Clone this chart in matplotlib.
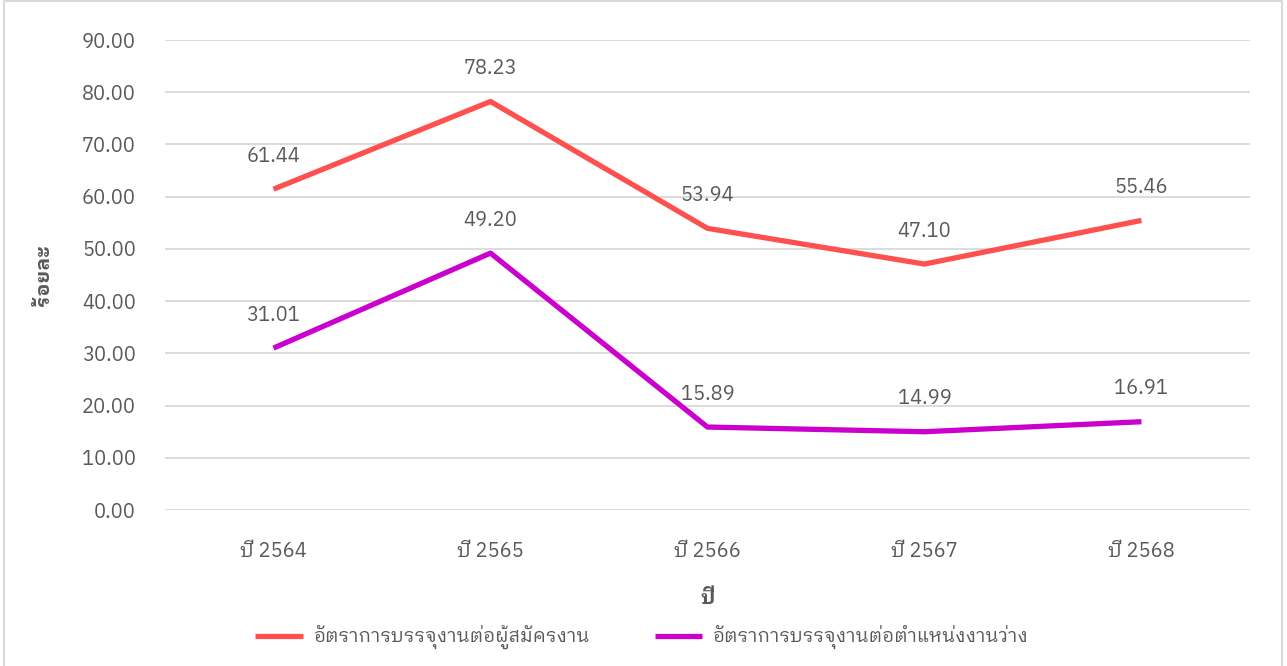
import matplotlib
matplotlib.use('Agg')
import matplotlib.pyplot as plt
from matplotlib.patches import Rectangle

# data
years = ['ปี 2564', 'ปี 2565', 'ปี 2566', 'ปี 2567', 'ปี 2568']
per_applicant = [61.44, 78.23, 53.94, 47.10, 55.46]
per_vacancy = [31.01, 49.20, 15.89, 14.99, 16.91]
series_names = ['อัตราการบรรจุงานต่อผู้สมัครงาน', 'อัตราการบรรจุงานต่อตำแหน่งงานว่าง']
yticks = [0, 10, 20, 30, 40, 50, 60, 70, 80, 90]

plt.rcParams['font.family'] = ['IBM Plex Sans Thai Looped', 'Noto Sans Thai Looped', 'DejaVu Sans']
plt.rcParams['font.weight'] = 'normal'
text_color = '#595959'

fig = plt.figure(figsize=(12.87, 6.66), dpi=100)
ax = fig.add_axes([0.1282, 0.2342, 0.843, 0.7057])

x = list(range(len(years)))
ax.plot(x, per_applicant, color='#FF5050', lw=3.8, solid_capstyle='butt', label=series_names[0])
ax.plot(x, per_vacancy, color='#CC00CC', lw=3.8, solid_capstyle='butt', label=series_names[1])

for xi, v in zip(x, per_applicant):
    ax.annotate(f'{v:.2f}', (xi, v), xytext=(0, 33), textcoords='offset pixels',
                ha='center', va='center', fontsize=14.5, color=text_color)
for xi, v in zip(x, per_vacancy):
    ax.annotate(f'{v:.2f}', (xi, v), xytext=(0, 33), textcoords='offset pixels',
                ha='center', va='center', fontsize=14.5, color=text_color)

ax.set_xlim(-0.5, len(years) - 0.5)
ax.set_ylim(0, 90)
ax.set_yticks(yticks)
ax.set_yticklabels([f'{t:.2f}' for t in yticks])
ax.set_xticks(x)
ax.set_xticklabels(years)
ax.tick_params(length=0, labelsize=14.5, labelcolor=text_color)
ax.tick_params(axis='y', pad=21)
ax.tick_params(axis='x', pad=23)
ax.grid(axis='y', color='#D9D9D9', lw=1.3)
ax.set_axisbelow(True)
for s in ax.spines.values():
    s.set_visible(False)

ax.set_xlabel('ปี', fontsize=14.5, fontweight='bold', color=text_color, labelpad=20)
ax.set_ylabel('ร้อยละ', fontsize=14.5, fontweight='bold', color=text_color, labelpad=21)

leg = fig.legend(loc='center', bbox_to_anchor=(0.4985, 0.043), ncol=2, frameon=False,
                 fontsize=13.5, handlelength=2.55, columnspacing=3.5, handletextpad=0.5)
for t in leg.get_texts():
    t.set_color(text_color)

fig.patches.append(Rectangle((4 / 1287, -0.05), 1278 / 1287, 1.049, transform=fig.transFigure,
                             fill=False, edgecolor='#D9D9D9', lw=1.5))

fig.savefig('out.png', dpi=100)
